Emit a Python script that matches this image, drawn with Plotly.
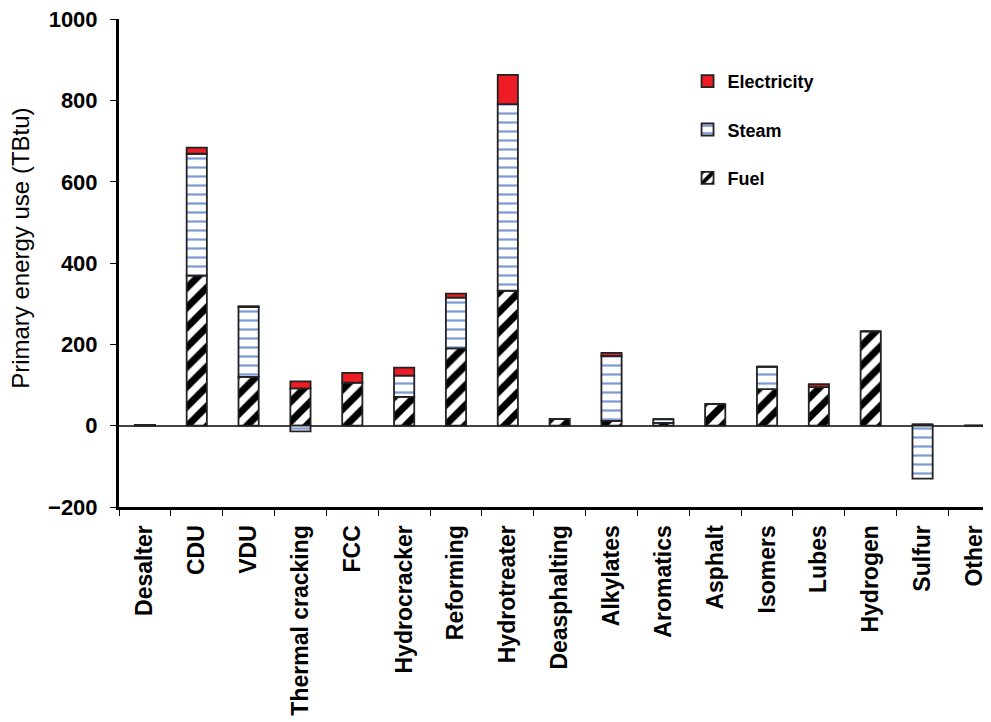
import plotly.graph_objects as go

categories = ["Desalter", "CDU", "VDU", "Thermal cracking", "FCC", "Hydrocracker",
              "Reforming", "Hydrotreater", "Deasphalting", "Alkylates", "Aromatics",
              "Asphalt", "Isomers", "Lubes", "Hydrogen", "Sulfur", "Other"]
fuel = [2, 369, 120, 92, 106, 71, 190, 332, 17, 12, 7, 53, 90, 95, 232, 3, 0]
steam = [0, 300, 172, -14, 0, 52, 125, 459, 0, 160, 9, 0, 55, 0, 0, -130, 0]
electricity = [0, 15, 2, 17, 24, 20, 10, 72, 0, 7, 0, 0, 0, 7, 0, 0, 0]
y_ticks = [-200, 0, 200, 400, 600, 800, 1000]

FONT = "Liberation Sans, Arial, sans-serif"
outline = dict(color="#222222", width=1.8)

fig = go.Figure()
fig.add_trace(go.Bar(
    name="Fuel", x=categories, y=fuel, width=0.39, legendgroup="f", legendrank=3,
    marker=dict(color="white", line=outline,
                pattern=dict(shape="/", fgcolor="#000000", bgcolor="white",
                             fgopacity=1, fillmode="replace",
                             size=14, solidity=0.5)),
))
fig.add_trace(go.Bar(
    name="Steam", x=categories, y=steam, width=0.39, legendgroup="s", legendrank=2,
    marker=dict(color="white", line=outline,
                pattern=dict(shape="-", fgcolor="#7f9ad8", bgcolor="white",
                             fgopacity=1, fillmode="replace",
                             size=9, solidity=0.25)),
))
fig.add_trace(go.Bar(
    name="Electricity", x=categories, y=electricity, width=0.39, legendgroup="e",
    legendrank=1,
    marker=dict(color="#ee1c25", line=outline),
))

fig.update_layout(
    barmode="relative",
    width=983, height=714,
    margin=dict(l=111, r=0, t=11, b=215, autoexpand=False),
    plot_bgcolor="white", paper_bgcolor="white",
    font=dict(family=FONT, size=17, color="black"),
    showlegend=True,
    legend=dict(x=0.652, y=0.91, xanchor="left", yanchor="top",
                traceorder="grouped", tracegroupgap=22,
                font=dict(family=FONT, size=18, color="black", weight="bold"),
                bgcolor="rgba(0,0,0,0)", itemwidth=30),
    xaxis=dict(
        range=[-0.5, 16.32], tickangle=-90, showline=True, linecolor="black",
        linewidth=3, ticks="outside", ticklen=6, tickwidth=1.2, tickcolor="black",
        tickson="boundaries", showgrid=False, zeroline=False, automargin=False,
        ticklabelstandoff=6,
        tickfont=dict(family=FONT, size=23, color="black", weight="bold"),
    ),
    yaxis=dict(
        range=[-200, 1000.5], tickvals=y_ticks, showline=True, linecolor="black",
        linewidth=3, ticks="outside", ticklen=6, tickwidth=1.2, tickcolor="black",
        showgrid=False, zeroline=True, zerolinecolor="#444444", zerolinewidth=2,
        automargin=False, ticklabelstandoff=8, ticklabeloverflow="allow",
        tickfont=dict(family=FONT, size=22, color="black", weight="bold"),
    ),
    annotations=[dict(
        text="Primary energy use (TBtu)", textangle=-90, showarrow=False,
        xref="paper", yref="paper", x=-0.1124, y=0.531,
        xanchor="center", yanchor="middle",
        font=dict(family=FONT, size=24, color="black"),
    )],
)

fig.write_html("out.html")
